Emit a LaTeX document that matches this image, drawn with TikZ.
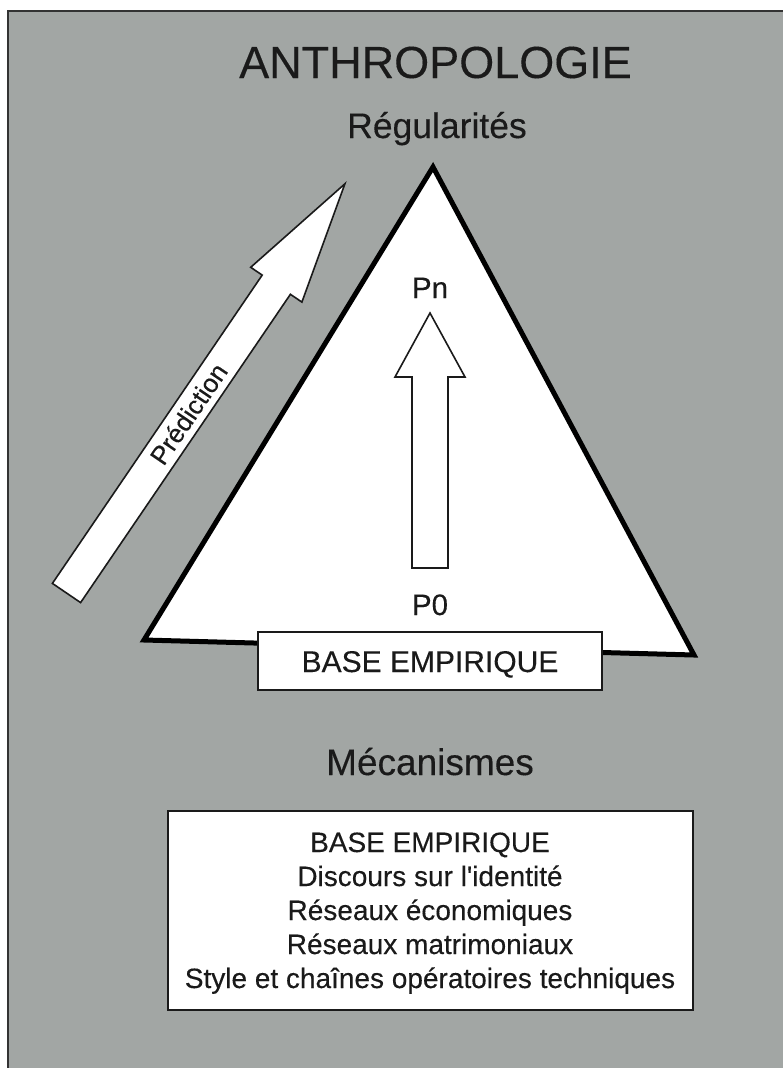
\documentclass[tikz,border=0pt]{standalone}
\usepackage{fontspec}
\setmainfont{Liberation Sans}[Ligatures=TeXOff, FakeBold=0.25]
\definecolor{bggray}{HTML}{A2A6A4}
\definecolor{framecol}{HTML}{333333}
\definecolor{inkcol}{HTML}{1A1A1A}
\begin{document}
\begin{tikzpicture}[x=1pt,y=-1pt,
  lbl/.style={anchor=base, inner sep=0pt, text=inkcol},
  boxnode/.style={draw=inkcol, fill=white, line width=2pt, rectangle, inner sep=0pt},
  arrowshape/.style={draw=inkcol, fill=white, line width=1.6pt, line join=miter},
  tri/.style={draw=black, fill=white, line width=5pt, line join=miter}]
\useasboundingbox (0,0) rectangle (783,1068);
\clip (0,0) rectangle (783,1068);
\fill[white] (0,0) rectangle (783,1068);
\draw[draw=framecol, fill=bggray, line width=2.5pt] (8,11) rectangle (800,1090);

% titles
\node[lbl, font=\fontsize{45}{54}\selectfont] (title) at (435.5,78) {ANTHROPOLOGIE};
\node[lbl, font=\fontsize{35.5}{42}\selectfont] (reg) at (437,138) {Régularités};
\node[lbl, font=\fontsize{37}{44}\selectfont] (meca) at (430,775) {Mécanismes};

% triangle
\coordinate (apex) at (433,167);
\coordinate (bl) at (144,640);
\coordinate (br) at (694,655);
\draw[tri] (apex) -- (bl) -- (br) -- cycle;

% central arrow
\coordinate (c1) at (412,568);
\coordinate (c2) at (448,568);
\coordinate (c3) at (448,377);
\coordinate (c4) at (465,377);
\coordinate (ct) at (430,313);
\coordinate (c6) at (395,377);
\coordinate (c7) at (412,377);
\draw[arrowshape] (c1) -- (c2) -- (c3) -- (c4) -- (ct) -- (c6) -- (c7) -- cycle;
\node[lbl, font=\fontsize{29.5}{35}\selectfont] (pn) at (430,298) {Pn};
\node[lbl, font=\fontsize{29.5}{35}\selectfont] (p0) at (430,615) {P0};

% prediction arrow
\coordinate (p1) at (52.4,583.4);
\coordinate (p2) at (80.6,602.6);
\coordinate (p3) at (290.4,294.3);
\coordinate (p4) at (301.9,302.1);
\coordinate (pt) at (344.9,183.8);
\coordinate (p6) at (250.7,267.3);
\coordinate (p7) at (262.2,275.1);
\coordinate (pb) at (66.5,593);
\draw[arrowshape] (p1) -- (p2) -- (p3) -- (p4) -- (pt) -- (p6) -- (p7) -- cycle;
\path (pb) -- (pt) node[pos=0.438, sloped, inner sep=0pt, text=inkcol, font=\fontsize{26}{31}\selectfont] (pred) {Prédiction};

% base empirique box
\node[boxnode, minimum width=344pt, minimum height=58pt] (base) at (430,661) {};
\node[lbl, font=\fontsize{30}{36}\selectfont] (basetxt) at (430,672) {BASE EMPIRIQUE};

% list box
\node[boxnode, line width=2.4pt, minimum width=525pt, minimum height=199pt] (mech) at (430.5,910.5) {};
\node[lbl, font=\fontsize{28}{34}\selectfont] (l1) at (430,852) {BASE EMPIRIQUE};
\node[lbl, font=\fontsize{28}{34}\selectfont] (l2) at (430,886) {Discours sur l'identité};
\node[lbl, font=\fontsize{28}{34}\selectfont] (l3) at (430,920) {Réseaux économiques};
\node[lbl, font=\fontsize{28}{34}\selectfont] (l4) at (430,954) {Réseaux matrimoniaux};
\node[lbl, font=\fontsize{28}{34}\selectfont] (l5) at (430,988) {Style et chaînes opératoires techniques};
\end{tikzpicture}
\end{document}
